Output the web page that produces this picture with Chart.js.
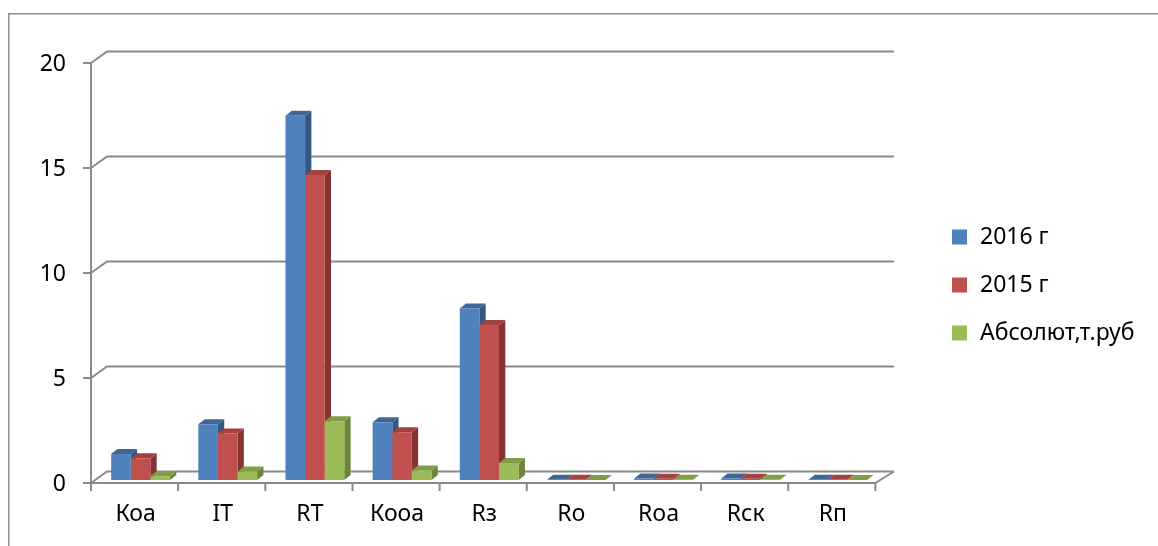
<!DOCTYPE html>
<html>
<head>
<meta charset="utf-8">
<script src="https://cdn.jsdelivr.net/npm/chart.js@4.4.1/dist/chart.umd.min.js"></script>
<style>
  html, body { margin: 0; padding: 0; background: #ffffff; }
  #wrap { width: 1158px; height: 546px; position: relative; }
</style>
</head>
<body>
<div id="wrap"><canvas id="chart" width="1158" height="546"></canvas></div>
<script>
// Indicators and their values
const categories = ['Коа', 'IT', 'RT', 'Кооа', 'Rз', 'Ro', 'Roa', 'Rск', 'Rп'];
const values2016 = [1.24, 2.65, 17.35, 2.75, 8.17, 0.01, 0.07, 0.07, 0.01];
const values2015 = [1.03, 2.22, 14.52, 2.27, 7.38, 0.01, 0.06, 0.06, 0.01];
const valuesAbs  = [0.18, 0.41, 2.8, 0.45, 0.81, 0, 0.01, 0.01, 0];
const seriesNames = ['2016 г', '2015 г', 'Абсолют,т.руб'];
const yTicks = [0, 5, 10, 15, 20];

const FONT = "'Noto Sans', 'DejaVu Sans', sans-serif";
const FONT_SIZE = 23;
const GRID = '#8a8a8a';

// face colours: [front, top, side]
const palette = [
  ['#4F81BD', '#3E6797', '#35577F'],
  ['#C0504D', '#A3413E', '#853432'],
  ['#9BBB59', '#819E47', '#6B853A']
];

// pseudo-3D geometry (pixels)
const BAR_DX = 6.3, BAR_DY = -5;       // depth of each bar
const FRONT = { dx: -6, dy: 3 };       // front edge of the floor / axis
const BACK = { dx: 10, dy: -8.5 };     // back wall

const depth3d = {
  id: 'depth3d',
  beforeDraw(chart) {
    const ctx = chart.ctx;
    ctx.save();
    ctx.strokeStyle = '#8e8e8e';
    ctx.lineWidth = 1.5;
    ctx.beginPath();
    ctx.moveTo(8.75, chart.height + 2);
    ctx.lineTo(8.75, 13.75);
    ctx.lineTo(chart.width + 2, 13.75);
    ctx.stroke();
    ctx.restore();
  },
  beforeDatasetsDraw(chart) {
    const ctx = chart.ctx;
    const { left, right } = chart.chartArea;
    const ys = chart.scales.y;
    ctx.save();
    ctx.strokeStyle = GRID;
    ctx.lineWidth = 2;
    // back wall gridlines with their diagonal connectors to the front axis
    yTicks.forEach(v => {
      const p = ys.getPixelForValue(v);
      ctx.beginPath();
      ctx.moveTo(left + FRONT.dx, p + FRONT.dy);
      ctx.lineTo(left + BACK.dx, p + BACK.dy);
      ctx.lineTo(right + 12.5, p + BACK.dy);
      ctx.stroke();
    });
    // side and top faces, painted group by group from left to right
    const n = categories.length;
    for (let j = 0; j < n; j++) {
      chart.data.datasets.forEach((ds, i) => {
        const el = chart.getDatasetMeta(i).data[j];
        const { x, y, base, width } = el.getProps(['x', 'y', 'base', 'width'], true);
        const l = x - width / 2, r = x + width / 2;
        ctx.fillStyle = palette[i][2];
        ctx.beginPath();
        ctx.moveTo(r, y);
        ctx.lineTo(r + BAR_DX, y + BAR_DY);
        ctx.lineTo(r + BAR_DX, base + BAR_DY);
        ctx.lineTo(r, base);
        ctx.closePath();
        ctx.fill();
        ctx.fillStyle = palette[i][1];
        ctx.beginPath();
        ctx.moveTo(l, y);
        ctx.lineTo(l + BAR_DX, y + BAR_DY);
        ctx.lineTo(r + BAR_DX, y + BAR_DY);
        ctx.lineTo(r, y);
        ctx.closePath();
        ctx.fill();
      });
    }
    ctx.restore();
  },
  afterDatasetsDraw(chart) {
    const ctx = chart.ctx;
    const { left, right } = chart.chartArea;
    const ys = chart.scales.y;
    const y0 = ys.getPixelForValue(0);
    const yTop = ys.getPixelForValue(yTicks[yTicks.length - 1]);
    const xf = left + FRONT.dx;
    ctx.save();
    ctx.strokeStyle = GRID;
    ctx.lineWidth = 2;
    // front vertical axis with tick marks
    ctx.beginPath();
    ctx.moveTo(xf, yTop + FRONT.dy);
    ctx.lineTo(xf, y0 + FRONT.dy + 8);
    yTicks.forEach(v => {
      const p = ys.getPixelForValue(v) + FRONT.dy;
      ctx.moveTo(xf - 8, p);
      ctx.lineTo(xf, p);
    });
    ctx.stroke();
    // floor front edge and right side
    ctx.beginPath();
    ctx.moveTo(xf, y0 + FRONT.dy);
    ctx.lineTo(right + FRONT.dx, y0 + FRONT.dy);
    ctx.lineTo(right + 12.5, y0 + BACK.dy);
    ctx.stroke();
    // category tick marks on the front edge
    const n = categories.length;
    const step = (right - left) / n;
    ctx.beginPath();
    for (let k = 1; k <= n; k++) {
      const bx = left + k * step + FRONT.dx;
      ctx.moveTo(bx, y0 + FRONT.dy);
      ctx.lineTo(bx, y0 + FRONT.dy + 8);
    }
    ctx.stroke();
    ctx.restore();
  },
  afterDraw(chart) {
    // legend
    const ctx = chart.ctx;
    ctx.save();
    ctx.font = FONT_SIZE + 'px ' + FONT;
    ctx.textBaseline = 'middle';
    ctx.textAlign = 'left';
    chart.data.datasets.forEach((ds, i) => {
      const cy = 237 + i * 48;
      ctx.fillStyle = ds.backgroundColor;
      ctx.fillRect(952, cy - 7.5, 15, 15);
      ctx.fillStyle = '#000000';
      ctx.fillText(ds.label, 980, cy);
    });
    ctx.restore();
  }
};

const data = {
  labels: categories,
  datasets: [
    { label: seriesNames[0], data: values2016, backgroundColor: palette[0][0] },
    { label: seriesNames[1], data: values2015, backgroundColor: palette[1][0] },
    { label: seriesNames[2], data: valuesAbs, backgroundColor: palette[2][0] }
  ]
};

new Chart(document.getElementById('chart'), {
  type: 'bar',
  data,
  plugins: [depth3d],
  options: {
    responsive: false,
    animation: false,
    events: [],
    layout: { padding: { top: 60, right: 276.6, left: 0, bottom: 0 } },
    datasets: { bar: { barPercentage: 1, categoryPercentage: 0.675, borderWidth: 0 } },
    plugins: { legend: { display: false }, tooltip: { enabled: false } },
    scales: {
      x: {
        grid: { display: false, drawTicks: false },
        border: { display: false },
        ticks: { font: { family: FONT, size: FONT_SIZE }, color: '#000', padding: 21, labelOffset: -5, maxRotation: 0 },
        afterFit(s) { s.height = 66; }
      },
      y: {
        min: 0, max: 20,
        grid: { display: false, drawTicks: false },
        border: { display: false },
        afterBuildTicks(s) { s.ticks = yTicks.map(v => ({ value: v })); },
        ticks: { font: { family: FONT, size: FONT_SIZE }, color: '#000', padding: 31, labelOffset: 4 },
        afterFit(s) { s.width = 97; }
      }
    }
  }
});
</script>
</body>
</html>
